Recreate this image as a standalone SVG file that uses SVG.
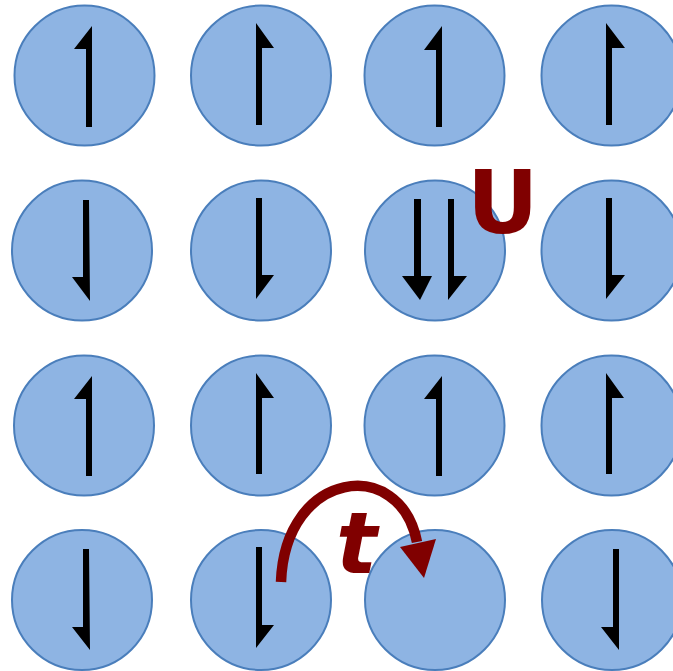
<svg xmlns="http://www.w3.org/2000/svg" width="673" height="671" viewBox="0 0 673 671">
<style>
.site{fill:#8EB4E3;stroke:#4A7EBB;stroke-width:2}
.spin{fill:#000}
.lbl{fill:#800000;font-family:"DejaVu Sans",sans-serif;font-weight:bold}
</style>
<rect width="673" height="671" fill="#fff"/>
<g id="n11"><circle class="site" cx="84.5" cy="75.5" r="70"/><polygon class="spin" points="92,26 92,127 86,127 86,49 74,49"/></g>
<g id="n12"><circle class="site" cx="261" cy="75.5" r="70"/><polygon class="spin" points="256,23 274,48 262,48 262,125 256,125"/></g>
<g id="n13"><circle class="site" cx="434.5" cy="75.5" r="70"/><polygon class="spin" points="442,26 442,127 436,127 436,50 424,50"/></g>
<g id="n14"><circle class="site" cx="611.5" cy="75.5" r="70"/><polygon class="spin" points="606,23 625,48 612,48 612,125 606,125"/></g>

<g id="n21"><circle class="site" cx="82" cy="250.5" r="70"/><polygon class="spin" points="83,200 89,200 90,301 72,277 83,277"/></g>
<g id="n22"><circle class="site" cx="261" cy="250.5" r="70"/><polygon class="spin" points="256,198 262,198 262,275 274,275 256,299"/></g>
<g id="n23"><circle class="site" cx="435" cy="250.5" r="70"/><polygon class="spin" points="414,199 421,199 421,276 432,276 420,300 402,276 414,276"/><polygon class="spin" points="448,199 454,199 454,276 467,276 448,300"/></g>
<g id="n24"><circle class="site" cx="611.5" cy="250.5" r="70"/><polygon class="spin" points="606,198 612,198 612,275 625,275 606,299"/></g>

<g id="n31"><circle class="site" cx="84" cy="425.5" r="70"/><polygon class="spin" points="92,376 92,476 86,476 86,399 74,399"/></g>
<g id="n32"><circle class="site" cx="261" cy="425.5" r="70"/><polygon class="spin" points="256,373 274,398 262,398 262,474 256,474"/></g>
<g id="n33"><circle class="site" cx="434.5" cy="425.5" r="70"/><polygon class="spin" points="442,376 442,476 436,476 436,399 424,399"/></g>
<g id="n34"><circle class="site" cx="611.5" cy="425.5" r="70"/><polygon class="spin" points="606,373 624,398 612,398 612,474 606,474"/></g>

<g id="n41"><circle class="site" cx="82" cy="600" r="70"/><polygon class="spin" points="83,549 89,549 90,650 72,627 83,627"/></g>
<g id="n42"><circle class="site" cx="261" cy="600" r="70"/><polygon class="spin" points="256,547 262,547 262,625 274,625 256,648"/></g>
<g id="n43"><circle class="site" cx="435" cy="600" r="70"/></g>
<g id="n44"><circle class="site" cx="612" cy="600" r="70"/><polygon class="spin" points="613,549 619,549 619,650 601,627 613,627"/></g>

<g id="connectors">
<path d="M 281 582 C 285 470, 400 455, 417 542" fill="none" stroke="#800000" stroke-width="10.5"/>
<polygon points="400,547 436,539 424,578" fill="#800000"/>
</g>
<text class="lbl" x="467" y="233" font-size="88">U</text>
<text class="lbl" x="336" y="573" font-size="86" font-style="italic">t</text>
</svg>
